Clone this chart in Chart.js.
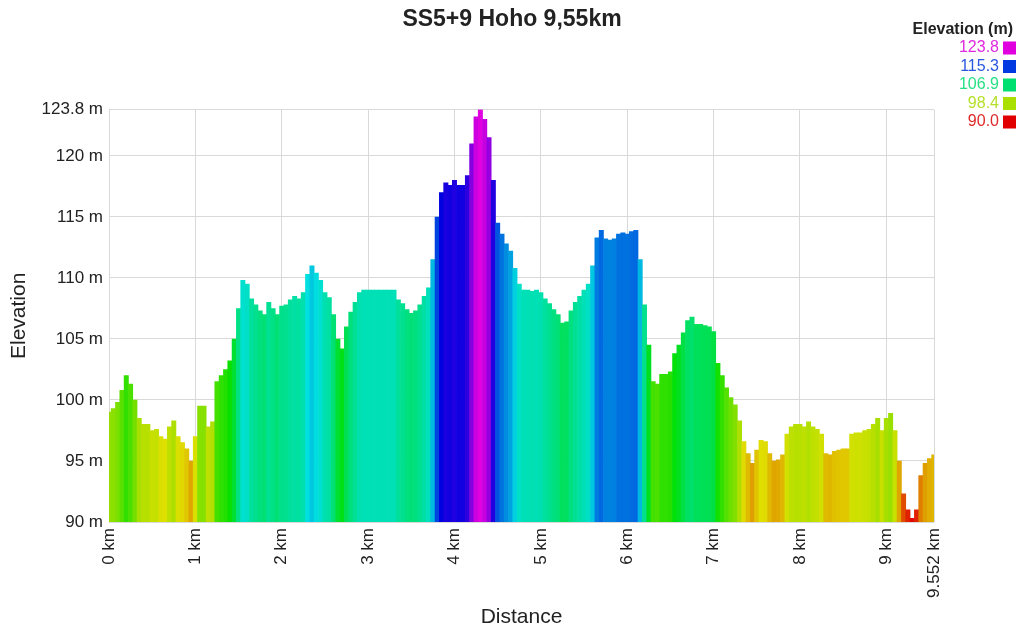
<!DOCTYPE html>
<html>
<head>
<meta charset="utf-8">
<script src="https://cdn.jsdelivr.net/npm/chart.js@4/dist/chart.umd.min.js"></script>
<style>
  html, body { margin: 0; padding: 0; background: #fff; }
  #wrap { width: 1024px; height: 631px; }
</style>
</head>
<body>
<div id="wrap"><canvas id="profile_canvas"></canvas></div>
<script>
// distance step of the profile samples (km)
const step = 0.05;

// elevation (m) every 0.05 km
const elevations = [
    99.0, 99.3, 99.8, 100.8, 102.0, 101.3, 100.0, 98.5, 98.0, 98.0,
    97.5, 97.6, 97.0, 96.8, 97.8, 98.3, 97.0, 96.5, 96.0, 95.0,
    97.0, 99.5, 99.5, 97.8, 98.2, 101.5, 102.0, 102.5, 103.2, 105.0,
    107.5, 109.8, 109.5, 108.3, 107.8, 107.3, 107.0, 108.0, 107.5, 107.0,
    107.7, 107.8, 108.2, 108.5, 108.3, 108.8, 110.3, 111.0, 110.4, 109.8,
    108.8, 108.4, 107.0, 105.0, 104.2, 106.0, 107.2, 108.0, 108.8, 109.0,
    109.0, 109.0, 109.0, 109.0, 109.0, 109.0, 109.0, 108.2, 107.9, 107.4,
    107.1, 107.3, 107.8, 108.5, 109.2, 111.5, 115.0, 117.0, 117.8, 117.6,
    118.0, 117.6, 117.6, 118.4, 121.0, 123.2, 123.8, 123.0, 121.5, 118.0,
    114.5, 113.6, 112.8, 112.2, 110.8, 109.5, 109.0, 109.0, 108.9, 109.0,
    108.8, 108.3, 107.9, 107.4, 107.0, 106.3, 106.4, 107.3, 108.0, 108.5,
    109.0, 109.5, 111.0, 113.3, 113.9, 113.2, 113.1, 113.2, 113.6, 113.7,
    113.6, 113.8, 113.9, 111.5, 107.8, 104.5, 101.5, 101.3, 102.1, 102.1,
    102.3, 103.8, 104.5, 105.5, 106.5, 106.8, 106.2, 106.2, 106.1, 106.0,
    105.6, 103.0, 102.0, 101.0, 100.2, 99.6, 98.3, 96.6, 95.6, 94.8,
    95.9, 96.7, 96.6, 95.6, 95.0, 95.1, 95.5, 97.2, 97.8, 98.0,
    98.0, 97.8, 98.2, 97.8, 97.6, 97.2, 95.6, 95.5, 95.8, 95.9,
    96.0, 96.0, 97.2, 97.3, 97.3, 97.5, 97.6, 98.0, 98.5, 97.5,
    98.5, 98.9, 97.5, 95.0, 92.3, 91.0, 90.3, 91.0, 93.8, 94.8,
    95.2, 95.5
];

const distances = elevations.map((e, i) => +(i * step).toFixed(2));

const xTicks = [0, 1, 2, 3, 4, 5, 6, 7, 8, 9, 9.552];
const yTicks = [90, 95, 100, 105, 110, 115, 120, 123.8];
const legendValues = [123.8, 115.3, 106.9, 98.4, 90.0];

const eMin = 90, eMax = 123.8;
const fontFamily = '"Liberation Sans", Arial, sans-serif';

function hue(e) {
    return Math.max(0, Math.min(300, (e - eMin) / (eMax - eMin) * 300));
}
function elevColor(e) {
    return 'hsl(' + hue(e).toFixed(1) + ', 100%, 44%)';
}
function legendTextColor(e) {
    return 'hsl(' + hue(e).toFixed(1) + ', 75%, 52%)';
}

// colour key in the top right corner
const legendBox = {
    id: 'legendBox',
    afterDraw(chart) {
        const ctx = chart.ctx;
        ctx.save();
        ctx.textAlign = 'right';
        ctx.textBaseline = 'middle';
        ctx.font = 'bold 16px ' + fontFamily;
        ctx.fillStyle = '#222';
        ctx.fillText('Elevation (m)', 1013, 30);
        ctx.font = '16px ' + fontFamily;
        legendValues.forEach((v, i) => {
            const y = 48 + i * 18.5;
            ctx.fillStyle = legendTextColor(v);
            ctx.fillText(v.toFixed(1), 999, y);
            ctx.fillStyle = elevColor(v);
            ctx.fillRect(1003, y - 6.5, 13, 13);
        });
        ctx.restore();
    }
};

const profile = document.getElementById('profile_canvas');

new Chart(profile, {
    type: 'bar',
    data: {
        datasets: [{
            label: 'Elevation',
            data: distances.map((d, i) => ({ x: d, y: elevations[i] })),
            backgroundColor: elevations.map(elevColor),
            borderWidth: 0,
            barPercentage: 1,
            categoryPercentage: 1
        }]
    },
    options: {
        responsive: true,
        maintainAspectRatio: false,
        animation: false,
        layout: { padding: 0 },
        plugins: {
            legend: { display: false },
            tooltip: { enabled: false },
            title: {
                display: true,
                text: 'SS5+9 Hoho 9,55km',
                color: '#222',
                font: { family: fontFamily, size: 23, weight: 'bold' },
                padding: { top: 6, bottom: 76 }
            }
        },
        scales: {
            x: {
                type: 'linear',
                min: 0,
                max: 9.552,
                offset: false,
                grid: { offset: false, color: '#d9d9d9', drawTicks: false },
                border: { display: false },
                afterBuildTicks: (scale) => { scale.ticks = xTicks.map(v => ({ value: v })); },
                afterFit: (scale) => { scale.height = 109; },
                ticks: {
                    autoSkip: false,
                    minRotation: 90,
                    maxRotation: 90,
                    padding: 6,
                    color: '#222',
                    font: { family: fontFamily, size: 17 },
                    callback: (v) => v + ' km'
                },
                title: {
                    display: true,
                    text: 'Distance',
                    color: '#222',
                    font: { family: fontFamily, size: 21 },
                    padding: { top: 0, bottom: 1 }
                }
            },
            y: {
                min: eMin,
                max: eMax,
                grid: { color: '#d9d9d9', drawTicks: false },
                border: { display: false },
                afterBuildTicks: (scale) => { scale.ticks = yTicks.map(v => ({ value: v })); },
                afterFit: (scale) => { scale.width = 109; },
                ticks: {
                    padding: 6,
                    color: '#222',
                    font: { family: fontFamily, size: 17 },
                    callback: (v) => v + ' m'
                },
                title: {
                    display: true,
                    text: 'Elevation',
                    color: '#222',
                    font: { family: fontFamily, size: 21 },
                    padding: { top: 7, bottom: 0 }
                }
            },
            // empty right-hand axis that only keeps room for the colour key
            yKey: {
                position: 'right',
                grid: { display: false },
                border: { display: false },
                ticks: { display: false },
                afterFit: (scale) => { scale.width = 90; }
            }
        }
    },
    plugins: [legendBox]
});
</script>
</body>
</html>
